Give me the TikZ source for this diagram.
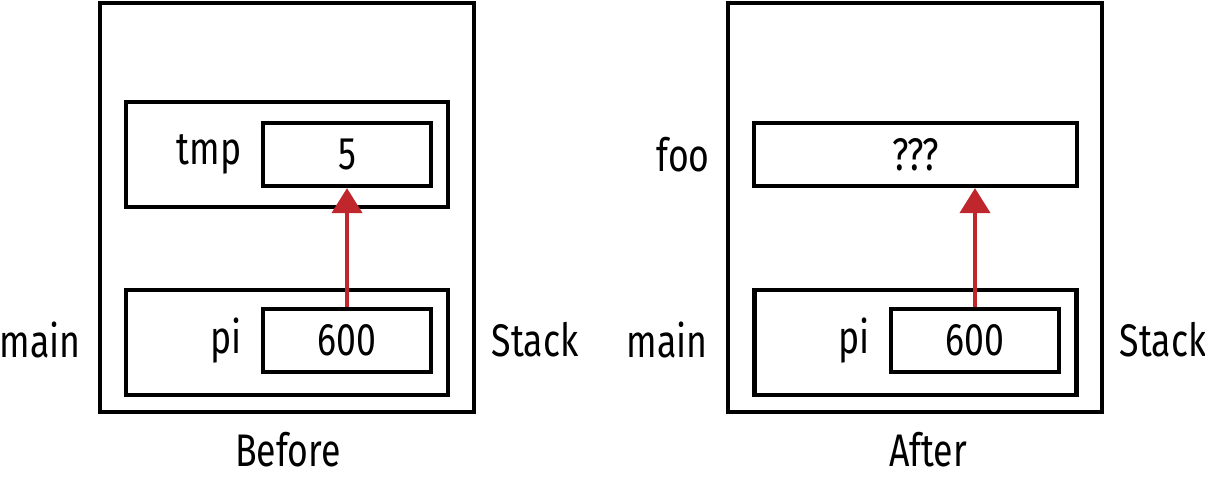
\documentclass[tikz,border=0pt]{standalone}
\usepackage{fontspec}
\setmainfont[FakeStretch=0.78]{Fira Sans}
\usetikzlibrary{positioning,arrows.meta}
\definecolor{ptr}{RGB}{192,39,45}
\begin{document}
\begin{tikzpicture}[
    x=0.02cm, y=-0.02cm,
    frame/.style={draw, line width=2.4pt, minimum width=#1*0.02cm, inner sep=0pt},
    cell/.style={draw, line width=2.4pt, minimum height=1.26cm, inner sep=0pt, font=\fontsize{26}{30}\selectfont},
    lbl/.style={font=\fontsize{26}{30}\selectfont, inner sep=0pt},
    arrow/.style={-{Triangle[length=0.5cm,width=0.6cm]}, line width=2.4pt, ptr}
]
\useasboundingbox (0,0) rectangle (1205,480);

% Before
\node[frame=374, minimum height=8.18cm] (outerB) at (287,207.5) {};
\node[frame=322, minimum height=2.1cm] (tmpF) at (287,154.5) {};
\node[cell, minimum width=3.36cm] (tmp) at (347,154.5) {5};
\node[lbl, left=0.38cm of tmp] {tmp};
\node[frame=322, minimum height=2.1cm] (mainB) at (287,342.5) {};
\node[cell, minimum width=3.36cm] (piB) at (347,340.5) {600};
\node[lbl, left=0.38cm of piB] {pi};
\node[lbl] at (40,340) {main};
\node[lbl] at (535,340) {Stack};
\node[lbl] at (288,450) {Before};
\draw[arrow] (piB.north) -- (tmp.south);

% After
\node[frame=374, minimum height=8.18cm] (outerA) at (915,207.5) {};
\node[cell, minimum width=6.46cm] (foo) at (915.5,154.5) {???};
\node[lbl] at (683,155) {foo};
\node[frame=322, minimum height=2.1cm] (mainA) at (915.5,342.5) {};
\node[cell, minimum width=3.36cm] (piA) at (975,340.5) {600};
\node[lbl, left=0.38cm of piA] {pi};
\node[lbl] at (667,340) {main};
\node[lbl] at (1163,340) {Stack};
\node[lbl] at (928,450) {After};
\draw[arrow] (piA.north) -- (piA.north |- foo.south);

\end{tikzpicture}
\end{document}
